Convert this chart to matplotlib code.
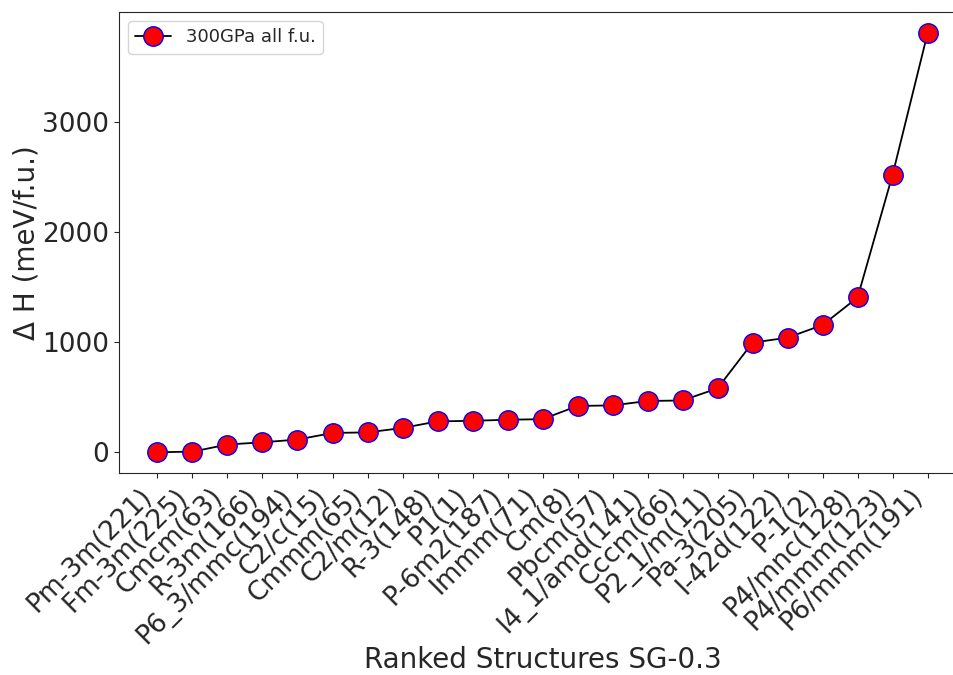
import numpy as np
import matplotlib.pyplot as plt
from matplotlib.ticker import MultipleLocator
import seaborn as sns

structures = ['Pm-3m(221)', 'Fm-3m(225)', 'Cmcm(63)', 'R-3m(166)', 'P6_3/mmc(194)',
              'C2/c(15)', 'Cmmm(65)', 'C2/m(12)', 'R-3(148)', 'P1(1)', 'P-6m2(187)',
              'Immm(71)', 'Cm(8)', 'Pbcm(57)', 'I4_1/amd(141)', 'Cccm(66)',
              'P2_1/m(11)', 'Pa-3(205)', 'I-42d(122)', 'P-1(2)', 'P4/mnc(128)',
              'P4/mmm(123)', 'P6/mmm(191)']
delta_h = [0, 5, 70, 90, 115, 175, 180, 220, 280, 285, 295, 300, 420, 425,
           465, 470, 580, 995, 1040, 1155, 1405, 2520, 3805]

sns.set_style("ticks")

fig = plt.figure(figsize=(9.54, 6.75), dpi=100)
# the original was cropped on the right, so the axes run past the figure edge
ax = fig.add_axes([0.1247, 0.299, 0.888, 0.683])
x = np.arange(len(structures))
ax.plot(x, delta_h, '-o', color='black', lw=1.3, markersize=14,
        markerfacecolor='red', markeredgecolor='blue', markeredgewidth=1.0,
        label='300GPa all f.u.')
ax.set_xticks(x)
ax.set_xticklabels(structures, rotation=45, ha='right', fontsize=19)
ax.yaxis.set_major_locator(MultipleLocator(1000))
ax.tick_params(axis='y', labelsize=19)
ax.set_xlabel('Ranked Structures SG-0.3', fontsize=20)
ax.xaxis.set_label_coords(0.5, -0.375)
ax.set_ylabel('Δ H (meV/f.u.)', fontsize=20, labelpad=1)
ax.legend(loc='upper left', fontsize=13)

fig.savefig('out.png')
